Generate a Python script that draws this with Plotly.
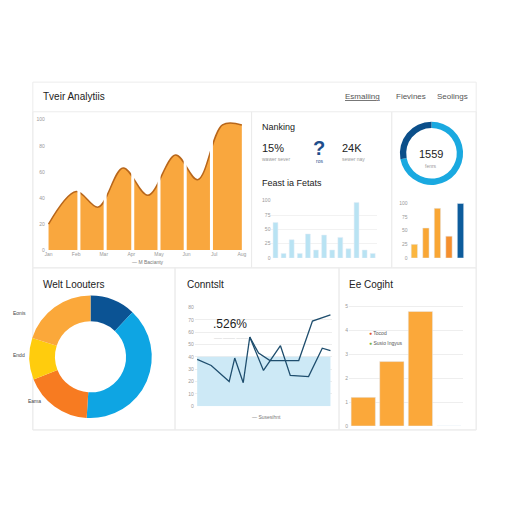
import plotly.graph_objects as go

# top-left smooth area chart
area_x = [0, 1, 1.8, 2.7, 3.6, 4.6, 5.4, 6.3, 7]
area_y = [20, 45, 33, 63, 42, 73, 54, 96, 96]
sep_x = [1.1, 2.05, 3.05, 4.0, 4.95, 5.9]
area_ticks = ["Jan", "Feb", "Mar", "Apr", "May", "Jun", "Jul", "Aug"]

# light blue bars
blue_vals = [62, 8, 32, 8, 42, 14, 40, 14, 36, 16, 97, 14, 8]
# small bars
small_vals = [25, 55, 91, 40, 100]
small_cols = ["#fbb640", "#f9a634", "#f9a634", "#f58f2e", "#0d5c9c"]

# donuts
ring_vals = [72, 28]
ring_cols = ["#1aa9e0", "#0b4f8a"]
donut_labels = ["Navy", "Blue", "Eama", "Endd", "Eonis"]
donut_vals = [12, 39, 18, 11, 20]
donut_cols = ["#0b5394", "#0ea5e3", "#f77b21", "#ffcc0d", "#fba83a"]

# line chart
line1_x = [497, 540, 595, 612, 638, 658, 685, 720, 808, 850, 905]
line1_y = [38, 33, 20, 39, 19, 56, 43, 37, 37, 69, 74]
line2_x = [658, 700, 752, 782, 838, 880, 905]
line2_y = [56, 29, 49, 25, 24, 47, 45]
fill_x = [497, 905]
fill_y = [40, 40]

# bottom-right bars
big_cats = ["a", "b", "c", "d"]
big_vals = [1.2, 2.7, 4.8, 0]

# page body has an 8px margin
def px(v):
    return (v - 8) / 504

def py(v):
    return 1 - (v - 8) / 504

fig = go.Figure()
tick = dict(size=5, color="#999")

fig.add_trace(go.Scatter(x=area_x, y=area_y, mode="lines", line=dict(shape="spline", color="#b8661a", width=1.5),
                         fill="tozeroy", fillcolor="#f9a73e", xaxis="x", yaxis="y", showlegend=False))
sx, sy = [], []
for s in sep_x:
    sx += [s, s, None]
    sy += [0, 100, None]
fig.add_trace(go.Scatter(x=sx, y=sy, mode="lines", line=dict(color="white", width=3), xaxis="x", yaxis="y",
                         showlegend=False))

fig.add_trace(go.Bar(y=blue_vals, marker_color="#b9e3f3", width=0.6, xaxis="x2", yaxis="y2", showlegend=False))
fig.add_trace(go.Bar(y=small_vals, marker_color=small_cols, width=0.55, xaxis="x3", yaxis="y3", showlegend=False))

fig.add_trace(go.Pie(values=ring_vals, marker=dict(colors=ring_cols), hole=0.8, sort=False, direction="clockwise",
                     textinfo="none", domain=dict(x=[px(401), px(465)], y=[py(184), py(120)]), showlegend=False))
fig.add_trace(go.Pie(values=donut_vals, labels=donut_labels, marker=dict(colors=donut_cols), hole=0.58, sort=False,
                     direction="clockwise", textinfo="none", domain=dict(x=[px(28), px(152)], y=[py(420), py(296)]),
                     showlegend=False))

fig.add_trace(go.Scatter(x=fill_x, y=fill_y, mode="lines", line=dict(width=0), fill="tozeroy", fillcolor="#cde9f6",
                         xaxis="x4", yaxis="y4", showlegend=False))
fig.add_trace(go.Scatter(x=line1_x, y=line1_y, mode="lines", line=dict(color="#1f4e6e", width=1.3),
                         xaxis="x4", yaxis="y4", showlegend=False))
fig.add_trace(go.Scatter(x=line2_x, y=line2_y, mode="lines", line=dict(color="#1f4e6e", width=1.3),
                         xaxis="x4", yaxis="y4", showlegend=False))

fig.add_trace(go.Bar(x=big_cats, y=big_vals, marker_color="#fba83a", width=0.85, xaxis="x5", yaxis="y5", showlegend=False))

ax = dict(showgrid=False, zeroline=False, tickfont=tick, showline=False)
fig.update_layout(
    width=504, height=504, margin=dict(l=0, r=0, t=0, b=0), paper_bgcolor="white", plot_bgcolor="white",
    font=dict(family="Liberation Sans", color="#333"),
    xaxis=dict(ax, domain=[px(45), px(245)], range=[-0.1, 7.1], tickvals=list(range(8)), ticktext=area_ticks),
    yaxis=dict(ax, domain=[py(250), py(118)], range=[0, 100], dtick=20),
    xaxis2=dict(ax, domain=[px(272), px(378)], showticklabels=False, anchor="y2"),
    yaxis2=dict(ax, domain=[py(258), py(200)], range=[0, 100], dtick=25, anchor="x2", showgrid=True, gridcolor="#f2f2f2"),
    xaxis3=dict(ax, domain=[px(410), px(468)], showticklabels=False, anchor="y3"),
    yaxis3=dict(ax, domain=[py(258), py(200)], range=[0, 105], dtick=25, anchor="x3"),
    xaxis4=dict(ax, domain=[px(195), px(333)], range=[490, 910], showticklabels=False, anchor="y4"),
    yaxis4=dict(ax, domain=[py(408), py(308)], range=[0, 80], dtick=10, showgrid=True, gridcolor="#eee", anchor="x4"),
    xaxis5=dict(ax, domain=[px(350), px(465)], showticklabels=False, anchor="y5"),
    yaxis5=dict(ax, domain=[py(428), py(300)], range=[0, 5.3], dtick=1, showgrid=True, gridcolor="#eee", anchor="x5"),
)

# panel frames
frames = [(32, 80, 478, 432), (32, 110, 252, 268), (252, 110, 393, 268), (393, 110, 478, 268),
          (32, 268, 175, 432), (175, 268, 340, 432), (340, 268, 478, 432)]
for x0, y0, x1, y1 in frames:
    fig.add_shape(type="rect", xref="paper", yref="paper", x0=px(x0), x1=px(x1), y0=py(y1), y1=py(y0),
                  line=dict(color="#ececec", width=1), layer="below")

texts = [
    (40, 95, "Tveir Analytiis", 10, "#222", "left"),
    (344, 95, "<u>Esmaliing</u>", 8, "#555", "left"),
    (395, 95, "Fievines", 8, "#555", "left"),
    (437, 95, "Seolings", 8, "#555", "left"),
    (260, 125, "Nanking", 9, "#222", "left"),
    (261, 147, "15%", 11, "#222", "left"),
    (320, 147, "<b>?</b>", 20, "#1f4e8c", "center"),
    (341, 147, "24K", 11, "#222", "left"),
    (261, 158, "wawer sever", 5, "#999", "left"),
    (320, 160, "ros", 5, "#1f4e8c", "center"),
    (341, 158, "sewer nay", 5, "#999", "left"),
    (433, 153, "1559", 11, "#222", "center"),
    (433, 165, "fenrs", 5, "#999", "center"),
    (260, 182, "Feast ia Fetats", 9, "#222", "left"),
    (130, 262, "— M Bacianty", 5, "#777", "left"),
    (40, 285, "Welt Loouters", 10, "#222", "left"),
    (10, 314, "Eonis", 5, "#444", "left"),
    (10, 356, "Endd", 5, "#444", "left"),
    (25, 403, "Eama", 5, "#444", "left"),
    (185, 285, "Conntslt", 10, "#222", "left"),
    (211, 325, ".526%", 12, "#222", "left"),
    (212, 338, "—— ——— ———", 4, "#aaa", "left"),
    (250, 419, "— Susesihnt", 5, "#777", "left"),
    (348, 285, "Ee Cogiht", 10, "#222", "left"),
    (368, 334, "<span style='color:#e05a2b'>●</span> Tocod", 5, "#555", "left"),
    (368, 344, "<span style='color:#7cb342'>●</span> Susio Ingyus", 5, "#555", "left"),
]
for x, y, t, s, c, a in texts:
    fig.add_annotation(x=px(x), y=py(y), xref="paper", yref="paper", text=t, showarrow=False,
                       font=dict(size=s, color=c), xanchor=a, yanchor="middle")

fig.write_html("out.html")
